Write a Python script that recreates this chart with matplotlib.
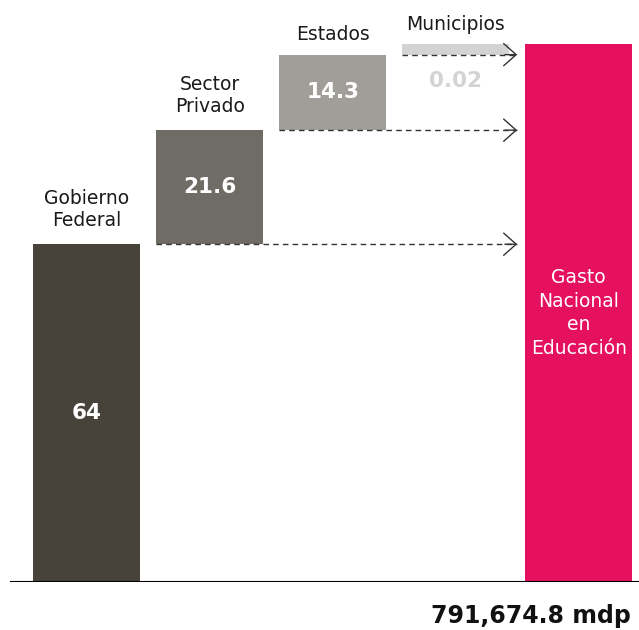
import matplotlib
matplotlib.use('Agg')
import matplotlib.pyplot as plt

# Data
categories = ['Gobierno\nFederal', 'Sector\nPrivado', 'Estados', 'Municipios']
values = [64, 21.6, 14.3, 0.02]
value_labels = ['64', '21.6', '14.3', '0.02']
total_label = 'Gasto\nNacional\nen\nEducación'
total_amount = '791,674.8 mdp'

colors = ['#47433a', '#6f6b65', '#a19e99', '#d3d3d3']
label_colors = ['white', 'white', 'white', '#d3d3d3']
pink = '#e5105f'

fig = plt.figure(figsize=(6.39, 6.30), dpi=100)
ax = fig.add_axes([0.0157, 0.076, 0.9843, 0.854])

width = 0.87
min_h = 2.0  # minimum visible height for tiny bars

bottom = 0
for i, v in enumerate(values):
    h = max(v, min_h)
    ax.bar(i, h, width=width, bottom=bottom, color=colors[i], zorder=2)

    # value label
    if v >= min_h:
        ax.text(i, bottom + h / 2, value_labels[i], ha='center', va='center',
                color=label_colors[i], fontsize=15.5, fontweight='bold')
    else:
        ax.text(i, bottom - 5, value_labels[i], ha='center', va='center',
                color=label_colors[i], fontsize=15.5, fontweight='bold')

    # category label
    pad = 2.6 if '\n' in categories[i] else 2.0
    ax.text(i, bottom + h + pad, categories[i], ha='center', va='bottom',
            fontsize=13.5, color='#1a1a1a', linespacing=1.25)

    # dashed connector to total bar
    if i > 0:
        ax.plot([i - width / 2, 3.5], [bottom, bottom], color='#333333',
                lw=1.0, linestyle=(0, (4, 3)), zorder=3)
        ax.annotate('', xy=(3.5, bottom), xytext=(3.4, bottom),
                    arrowprops=dict(arrowstyle='->,head_length=0.45,head_width=0.4',
                                    color='#333333', lw=1.0,
                                    shrinkA=0, shrinkB=0,
                                    mutation_scale=20),
                    zorder=3)
    bottom += h

# Total bar
ax.bar(4, bottom, width=width, color=pink, zorder=2)
ax.text(4, bottom * 0.5, total_label, ha='center', va='center',
        color='white', fontsize=13.5, linespacing=1.3)

# baseline
ax.axhline(0, color='black', lw=1.5, zorder=4)

ax.text(4.42, -6.5, total_amount, ha='right', va='center',
        fontsize=17, fontweight='bold', color='#111111')

ax.set_xlim(-0.622, 4.49)
ax.set_ylim(0, bottom)
ax.axis('off')

fig.savefig('out.png', dpi=100)
